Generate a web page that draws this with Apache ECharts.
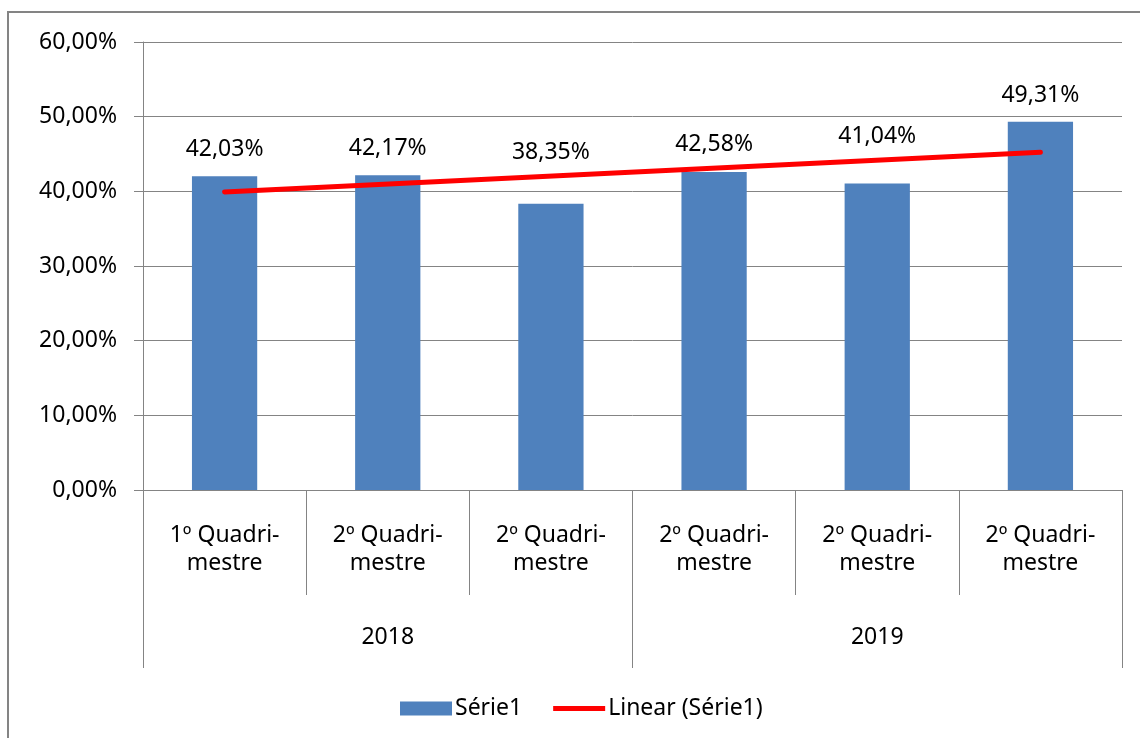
<!DOCTYPE html>
<html>
<head>
<meta charset="utf-8">
<script src="https://cdn.jsdelivr.net/npm/echarts@6/dist/echarts.min.js"></script>
<style>
html,body{margin:0;padding:0;background:#fff;}
#c{width:1140px;height:738px;}
</style>
</head>
<body>
<div id="c"></div>
<script>
// Data
var categories = ['1º Quadri-\nmestre','2º Quadri-\nmestre','2º Quadri-\nmestre','2º Quadri-\nmestre','2º Quadri-\nmestre','2º Quadri-\nmestre'];
var years = ['2018','2019'];
var serie1 = [42.03, 42.17, 38.35, 42.58, 41.04, 49.31];
// Linear trend endpoints (first and last category)
var trend = [39.92, null, null, null, null, 45.24];
var seriesNames = ['Série1', 'Linear (Série1)'];

var FONT = '"Noto Sans", "Open Sans", sans-serif';
var FS = 23;
var GRAY = '#848484';
function pct(v){ return v.toFixed(2).replace('.', ',') + '%'; }

var chart = echarts.init(document.getElementById('c'), null, {renderer:'canvas'});
var labelDistance = 15;
chart.setOption({
  animation: false,
  backgroundColor: '#fff',
  textStyle: {fontFamily: FONT, color: '#000'},
  graphic: [
    {type:'line', shape:{x1:8, y1:11, x2:8, y2:738}, style:{stroke:GRAY, lineWidth:2}},
    {type:'line', shape:{x1:7, y1:12, x2:1140, y2:12}, style:{stroke:GRAY, lineWidth:2}}
  ],
  grid: {left:143, right:18, top:42, bottom:248, containLabel:false},
  legend: {
    left: 395, top: 692,
    itemWidth: 52, itemHeight: 14, itemGap: 31,
    textStyle: {fontFamily: FONT, fontSize: FS, color:'#000', padding:[0,0,0,-2]},
    data: [
      {name: seriesNames[0], icon: 'rect'},
      {name: seriesNames[1], icon: 'path://M0,0 L52,0 L52,5 L0,5 Z', itemStyle:{color:'#ff0000'}}
    ]
  },
  xAxis: [
    {
      type: 'category', data: categories, position: 'bottom',
      axisLine: {show:true, lineStyle:{color:GRAY, width:1}},
      axisTick: {show:true, interval:0, length:105, lineStyle:{color:GRAY, width:1}},
      axisLabel: {interval:0, margin:31, fontFamily:FONT, fontSize:FS, lineHeight:28, color:'#000'},
      splitLine: {show:false}
    },
    {
      type: 'category', data: years, position: 'bottom', offset: 0,
      axisLine: {show:false},
      axisTick: {show:true, interval:0, length:178, lineStyle:{color:GRAY, width:1}},
      axisLabel: {interval:0, margin:133, fontFamily:FONT, fontSize:FS, lineHeight:28, color:'#000'},
      splitLine: {show:false}
    }
  ],
  yAxis: {
    type: 'value', min: 0, max: 60, interval: 10,
    axisLine: {show:true, lineStyle:{color:GRAY, width:1}},
    axisTick: {show:true, length:9, lineStyle:{color:GRAY, width:1}},
    axisLabel: {margin:26, fontFamily:FONT, fontSize:FS, color:'#000', formatter:function(v){return pct(v);}},
    splitLine: {show:true, lineStyle:{color:GRAY, width:1}}
  },
  series: [
    {
      name: seriesNames[0], type: 'bar', data: serie1, xAxisIndex: 0,
      barCategoryGap: '60%',
      itemStyle: {color: '#4f81bd'},
      label: {show:true, position:'top', distance:labelDistance, fontFamily:FONT, fontSize:FS, color:'#000',
        formatter:function(p){return pct(p.value);}}
    },
    {
      name: seriesNames[1], type: 'line', data: trend, xAxisIndex: 0,
      connectNulls: true, showSymbol: false, symbol: 'none', z: 5,
      lineStyle: {color:'#ff0000', width:5, cap:'round'},
      itemStyle: {color:'#ff0000'}
    }
  ]
});

// Lift data labels so they sit above the trend line where it passes over a bar
(function(){
  var n = serie1.length;
  var t0 = trend[0], t1 = trend[n-1];
  var items = serie1.map(function(v, i){
    var lineAt = t0 + (t1 - t0) * i / (n - 1);
    var yBar = chart.convertToPixel({yAxisIndex:0}, v);
    var yLine = chart.convertToPixel({yAxisIndex:0}, lineAt) + 3;
    var lift = Math.max(0, yBar - yLine);
    return {value: v, label: {offset: [0, -lift]}};
  });
  chart.setOption({series: [{name: seriesNames[0], data: items}]});
})();
</script>
</body>
</html>
